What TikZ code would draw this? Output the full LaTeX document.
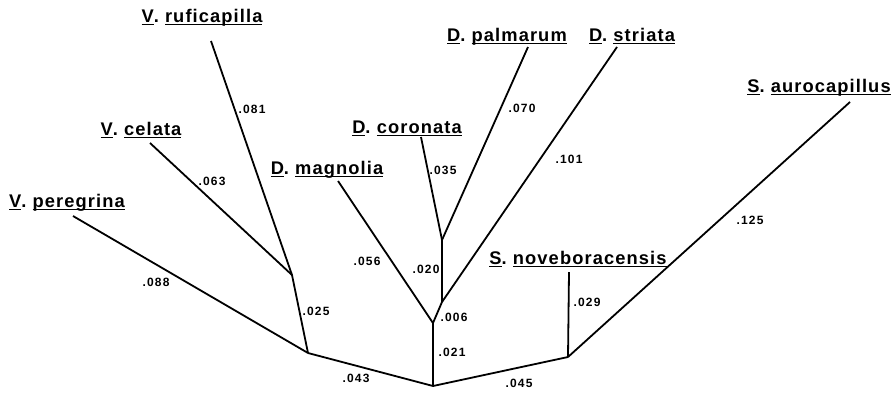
\documentclass[tikz,border=0pt]{standalone}
\usepackage{fontspec}
\setmainfont{Liberation Sans}
\newfontfamily\labfont[LetterSpace=6]{Liberation Sans}
\newfontfamily\numfont[LetterSpace=10]{Liberation Sans}
\newcommand\ulw[1]{\sbox0{#1}\rlap{\rule[-3.4pt]{\wd0}{1.5pt}}\usebox0}
\tikzset{
  branch/.style={line width=1.8pt},
  taxon/.style={anchor=base, inner sep=0pt, font=\labfont\bfseries\fontsize{18.3}{20}\selectfont},
  blen/.style={inner sep=0pt, font=\numfont\bfseries\fontsize{12}{14}\selectfont}
}
\begin{document}
\begin{tikzpicture}[x=1pt,y=-1pt]
\useasboundingbox (0,0) rectangle (896,392);
% internal nodes
\coordinate (R)  at (433,386);
\coordinate (VL) at (308,353);
\coordinate (SR) at (568,357);
\coordinate (D1) at (433,323);
\coordinate (D2) at (442,302);
\coordinate (D3) at (442,240);
\coordinate (V2) at (292,275);
% tips
\coordinate (tper) at (73,216);
\coordinate (tcel) at (150,143);
\coordinate (truf) at (211,41);
\coordinate (tmag) at (338,181);
\coordinate (tcor) at (421,137);
\coordinate (tpal) at (528,47);
\coordinate (tstr) at (617,47);
\coordinate (tnov) at (569,272);
\coordinate (taur) at (850,102);
% taxon labels
\node[taxon] (ruf) at (202,22)  {\ulw{V}.\ \ulw{ruficapilla}};
\node[taxon] (cel) at (141,135) {\ulw{V}.\ \ulw{celata}};
\node[taxon] (per) at (67,207)  {\ulw{V}.\ \ulw{peregrina}};
\node[taxon] (mag) at (327,174) {\ulw{D}.\ \ulw{magnolia}};
\node[taxon] (cor) at (407,133) {\ulw{D}.\ \ulw{coronata}};
\node[taxon] (pal) at (507,41)  {\ulw{D}.\ \ulw{palmarum}};
\node[taxon] (str) at (632,41)  {\ulw{D}.\ \ulw{striata}};
\node[taxon] (aur) at (819,92)  {\ulw{S}.\ \ulw{aurocapillus}};
\node[taxon] (nov) at (578,264) {\ulw{S}.\ \ulw{noveboracensis}};
% branches
\draw[branch] (R) -- (VL);
\draw[branch] (R) -- (SR);
\draw[branch] (R) -- (D1);
\draw[branch] (VL) -- (V2);
\draw[branch] (VL) -- (tper);
\draw[branch] (V2) -- (tcel);
\draw[branch] (V2) -- (truf);
\draw[branch] (D1) -- (tmag);
\draw[branch] (D1) -- (D2);
\draw[branch] (D2) -- (D3);
\draw[branch] (D2) -- (tstr);
\draw[branch] (D3) -- (tcor);
\draw[branch] (D3) -- (tpal);
\draw[branch] (SR) -- (tnov);
\draw[branch] (SR) -- (taur);
% branch lengths
\node[blen] (l081) at (252,109) {.081};
\node[blen] (l063) at (212,181) {.063};
\node[blen] (l088) at (156,282) {.088};
\node[blen] (l025) at (316,311) {.025};
\node[blen] (l043) at (356,378) {.043};
\node[blen] (l056) at (367,261) {.056};
\node[blen] (l020) at (426,269) {.020};
\node[blen] (l006) at (454,317) {.006};
\node[blen] (l021) at (452,352) {.021};
\node[blen] (l045) at (519,383) {.045};
\node[blen] (l029) at (587,302) {.029};
\node[blen] (l125) at (750,220) {.125};
\node[blen] (l035) at (443,170) {.035};
\node[blen] (l070) at (522,108) {.070};
\node[blen] (l101) at (569,159) {.101};
\end{tikzpicture}
\end{document}
